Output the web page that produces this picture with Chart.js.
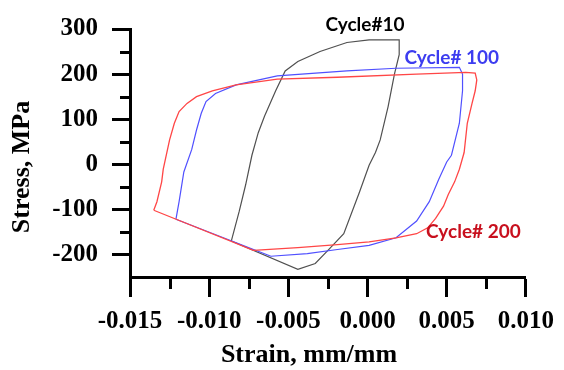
<!DOCTYPE html>
<html lang="en">
<head>
    <meta charset="UTF-8">
    <title>Hysteresis Loops</title>
    <script src="https://cdn.jsdelivr.net/npm/chart.js"></script>
    <style>
        body { margin: 0; background: #fff; }
        #wrap { width: 564px; height: 370px; }
    </style>
</head>
<body>
    <div id="wrap">
        <canvas id="loop-chart" width="564" height="370"></canvas>
    </div>

    <script>
    // Axis ticks
    const strainTicks = [-0.015, -0.010, -0.005, 0.000, 0.005, 0.010];
    const strainMinor = [-0.0125, -0.0075, -0.0025, 0.0025, 0.0075];
    const stressTicks = [-200, -100, 0, 100, 200, 300];
    const stressMinor = [-150, -50, 50, 150, 250];

    // Cycle# 200 (red)
    const c200Strain = [-0.0135, -0.0072, -0.0044, -0.0019, 0.0001, 0.0018, 0.0031, 0.0038, 0.0043, 0.0048,
        0.0051, 0.0055, 0.0058, 0.0061, 0.0063, 0.0066, 0.0068, 0.0069, 0.0068, 0.0062,
        0.0031, -0.0019, -0.0057, -0.0083, -0.0098, -0.0108, -0.0114, -0.0119, -0.0122, -0.0125,
        -0.0129, -0.0130, -0.0133, -0.0135];
    const c200Stress = [-102, -191, -185, -178, -172, -163, -154, -141, -120, -93,
        -67, -39, -11, 26, 91, 135, 163, 187, 202, 204,
        200, 193, 189, 176, 163, 150, 135, 117, 91, 54,
        -11, -39, -83, -102];

    // Cycle# 100 (blue)
    const c100Strain = [-0.0121, -0.0061, -0.0038, -0.0019, 0.0001, 0.0018, 0.0031, 0.0039, 0.0045, 0.0050,
        0.0053, 0.0058, 0.0060, 0.0060, 0.0058, 0.0018, -0.0013, -0.0057, -0.0083, -0.0096,
        -0.0102, -0.0105, -0.0108, -0.0111, -0.0116, -0.0119, -0.0121];
    const c100Stress = [-122, -204, -198, -189, -180, -163, -126, -83, -33, 5,
        20, 91, 163, 200, 215, 213, 207, 196, 176, 157,
        139, 113, 76, 33, -17, -83, -122];

    // Cycle#10 (black)
    const c10Strain = [-0.0086, -0.0044, -0.0033, -0.0025, -0.0015, -0.0005, 0.0001, 0.0005, 0.0008, 0.0013,
        0.0017, 0.0020, 0.0020, 0.0001, -0.0013, -0.0030, -0.0044, -0.0052, -0.0058, -0.0065,
        -0.0069, -0.0073, -0.0077, -0.0081, -0.0086];
    const c10Stress = [-170, -233, -220, -191, -154, -61, -2, 26, 54, 128,
        200, 243, 276, 276, 270, 250, 228, 207, 163, 107,
        70, 20, -46, -104, -170];

    function toPoints(xs, ys) {
        return xs.map((x, i) => ({ x: x, y: ys[i] }));
    }

    const serif = 'Liberation Serif, Times New Roman, serif';

    // Loop labels, anchored in data units (left edge, vertical middle)
    const loopLabels = [
        { text: 'Cycle#10', x: -0.00266, y: 309, color: '#000000' },
        { text: 'Cycle# 100', x: 0.00233, y: 235, color: '#3c3cf0' },
        { text: 'Cycle# 200', x: 0.00370, y: -150, color: '#c8101e' }
    ];

    const extrasPlugin = {
        id: 'extras',
        afterDraw(chart) {
            const ctx = chart.ctx;
            const xs = chart.scales.x;
            const ys = chart.scales.y;
            const area = chart.chartArea;
            ctx.save();

            // minor ticks
            ctx.strokeStyle = '#000';
            ctx.lineWidth = 3;
            ctx.beginPath();
            stressMinor.forEach(v => {
                const py = Math.round(ys.getPixelForValue(v)) + 0.5;
                ctx.moveTo(area.left - 10, py);
                ctx.lineTo(area.left, py);
            });
            strainMinor.forEach(v => {
                const px = Math.round(xs.getPixelForValue(v)) + 0.5;
                ctx.moveTo(px, area.bottom);
                ctx.lineTo(px, area.bottom + 12);
            });
            ctx.stroke();

            // axis titles
            ctx.fillStyle = '#000';
            ctx.font = 'bold 26px ' + serif;
            ctx.textAlign = 'center';
            ctx.textBaseline = 'middle';
            ctx.fillText('Strain, mm/mm', 309, 355);
            ctx.translate(22, 167);
            ctx.rotate(-Math.PI / 2);
            ctx.fillText('Stress, MPa', 0, 0);
            ctx.restore();

            // loop labels
            ctx.save();
            ctx.font = 'bold 19px Lato, sans-serif';
            ctx.textAlign = 'left';
            ctx.textBaseline = 'middle';
            loopLabels.forEach(l => {
                ctx.fillStyle = l.color;
                ctx.fillText(l.text, xs.getPixelForValue(l.x), ys.getPixelForValue(l.y));
            });
            ctx.restore();
        }
    };

    const loopChart = new Chart(document.getElementById('loop-chart'), {
        type: 'scatter',
        data: {
            datasets: [
                {
                    label: 'Cycle# 200',
                    data: toPoints(c200Strain, c200Stress),
                    borderColor: 'rgb(255, 70, 70)',
                    borderWidth: 1.3,
                    showLine: true,
                    pointRadius: 0
                },
                {
                    label: 'Cycle# 100',
                    data: toPoints(c100Strain, c100Stress),
                    borderColor: 'rgb(80, 80, 255)',
                    borderWidth: 1.2,
                    showLine: true,
                    pointRadius: 0
                },
                {
                    label: 'Cycle#10',
                    data: toPoints(c10Strain, c10Stress),
                    borderColor: 'rgb(80, 80, 80)',
                    borderWidth: 1.2,
                    showLine: true,
                    pointRadius: 0
                }
            ]
        },
        options: {
            responsive: false,
            animation: false,
            devicePixelRatio: 1,
            layout: { padding: { left: 0, top: 24, right: 33, bottom: 0 } },
            plugins: {
                legend: { display: false },
                tooltip: { enabled: false }
            },
            scales: {
                x: {
                    type: 'linear',
                    min: -0.015,
                    max: 0.010,
                    afterBuildTicks: s => { s.ticks = strainTicks.map(v => ({ value: v })); },
                    afterFit: s => { s.height = 93; },
                    border: { display: true, color: '#000', width: 3 },
                    grid: { drawOnChartArea: false, drawTicks: true, tickLength: 20, tickWidth: 3, tickColor: '#000' },
                    ticks: {
                        color: '#000',
                        padding: 10,
                        maxRotation: 0,
                        font: { family: serif, size: 25, weight: 'bold' },
                        callback: v => v.toFixed(3)
                    }
                },
                y: {
                    type: 'linear',
                    min: -250,
                    max: 300,
                    afterBuildTicks: s => { s.ticks = stressTicks.map(v => ({ value: v })); },
                    afterFit: s => { s.width = 130; },
                    border: { display: true, color: '#000', width: 3 },
                    grid: { drawOnChartArea: false, drawTicks: true, tickLength: 18, tickWidth: 3, tickColor: '#000' },
                    ticks: {
                        color: '#000',
                        padding: 14,
                        font: { family: serif, size: 25, weight: 'bold' },
                        callback: v => String(v)
                    }
                }
            }
        },
        plugins: [extrasPlugin]
    });
    </script>
</body>
</html>
